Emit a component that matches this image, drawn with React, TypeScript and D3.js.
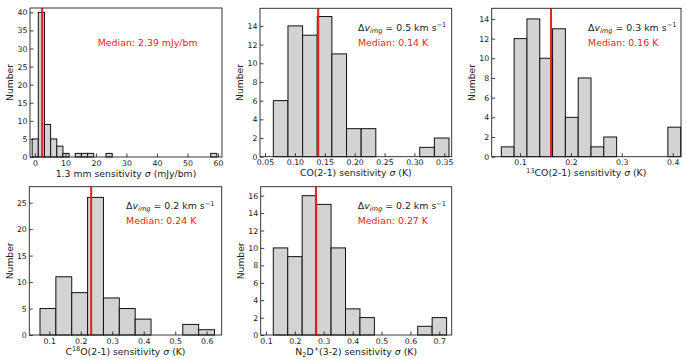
import { useRef, useEffect } from 'react'
import * as d3 from 'd3'

// histogram counts per bin
const contCounts = [5, 40, 9, 5, 3, 1, 0, 1, 1, 1, 0, 0, 1, 0, 0, 0, 0, 0, 0, 0, 0, 0, 0, 0, 0, 0, 0, 0, 0, 1]
const coCounts = [6, 14, 13, 15, 11, 3, 3, 0, 0, 0, 1, 2]
const co13Counts = [1, 12, 14, 10, 13, 4, 8, 1, 2, 0, 0, 0, 0, 3]
const c18oCounts = [5, 11, 8, 26, 7, 5, 3, 0, 0, 2, 1]
const n2dCounts = [10, 9, 16, 15, 10, 3, 2, 0, 0, 0, 1, 2]

// first bin edge and bin width
const binStarts = [-0.9, 0.0639, 0.0633, 0.0704, 0.1253]
const binWidths = [2.017, 0.0245, 0.02517, 0.0504, 0.05]

const medians = [2.39, 0.139, 0.161, 0.233, 0.273]
const medianLabels = ['Median: 2.39 mJy/bm', 'Median: 0.14 K', 'Median: 0.16 K', 'Median: 0.24 K', 'Median: 0.27 K']
const velocityRes = [null, '0.5', '0.3', '0.2', '0.2']

const xDomains: [number, number][] = [[-1.6, 61.3], [0.0416, 0.3624], [0.0444, 0.4163], [0.0364, 0.6477], [0.0817, 0.743]]
const yDomains: [number, number][] = [[0, 41.2], [0, 15.88], [0, 15.08], [0, 28.02], [0, 17.03]]

const xTicks = [
  [0, 10, 20, 30, 40, 50, 60],
  [0.05, 0.1, 0.15, 0.2, 0.25, 0.3, 0.35],
  [0.1, 0.2, 0.3, 0.4],
  [0.1, 0.2, 0.3, 0.4, 0.5, 0.6],
  [0.1, 0.2, 0.3, 0.4, 0.5, 0.6, 0.7],
]
const yTicks = [
  [0, 5, 10, 15, 20, 25, 30, 35, 40],
  [0, 2, 4, 6, 8, 10, 12, 14],
  [0, 2, 4, 6, 8, 10, 12, 14],
  [0, 5, 10, 15, 20, 25],
  [0, 2, 4, 6, 8, 10, 12, 14, 16],
]
const xFormats = ['d', '.2f', '.1f', '.1f', '.1f']

// x labels as [text, kind] pieces: kind 'sup' / 'sub' / 'it'
const xLabels: [string, string][][] = [
  [['1.3 mm sensitivity ', ''], ['σ', 'it'], [' (mJy/bm)', '']],
  [['CO(2-1) sensitivity ', ''], ['σ', 'it'], [' (K)', '']],
  [['13', 'sup'], ['CO(2-1) sensitivity ', ''], ['σ', 'it'], [' (K)', '']],
  [['C', ''], ['18', 'sup'], ['O(2-1) sensitivity ', ''], ['σ', 'it'], [' (K)', '']],
  [['N', ''], ['2', 'sub'], ['D', ''], ['+', 'sup'], ['(3-2) sensitivity ', ''], ['σ', 'it'], [' (K)', '']],
]

const allCounts = [contCounts, coCounts, co13Counts, c18oCounts, n2dCounts]

// axes boxes in px, ax = annotation x as fraction of box width
const boxes = [
  { x0: 30, x1: 222, y0: 8, y1: 157, ax: 0.353 },
  { x0: 260, x1: 451.7, y0: 8.3, y1: 156.7, ax: 0.511 },
  { x0: 491.7, x1: 681, y0: 8.3, y1: 156.7, ax: 0.509 },
  { x0: 29.3, x1: 221.7, y0: 186.7, y1: 335, ax: 0.503 },
  { x0: 260.7, x1: 451.7, y0: 186.7, y1: 335, ax: 0.508 },
]

const FONT = 'DejaVu Sans, sans-serif'
const RED = '#ee1c1c'

export default function App() {
  const svgRef = useRef<SVGSVGElement>(null)

  useEffect(() => {
    if (!svgRef.current) return
    const svg = d3.select(svgRef.current)
    svg.selectAll('*').remove()

    allCounts.forEach((counts, i) => {
      const b = boxes[i]
      const x = d3.scaleLinear().domain(xDomains[i]).range([b.x0, b.x1])
      const y = d3.scaleLinear().domain(yDomains[i]).range([b.y1, b.y0])
      const g = svg.append('g')

      const bins = counts
        .map((c, k) => ({ lo: binStarts[i] + k * binWidths[i], hi: binStarts[i] + (k + 1) * binWidths[i], c }))
        .filter((d) => d.c > 0)

      g.selectAll('rect')
        .data(bins)
        .join('rect')
        .attr('x', (d) => x(d.lo))
        .attr('y', (d) => y(d.c))
        .attr('width', (d) => x(d.hi) - x(d.lo))
        .attr('height', (d) => y(0) - y(d.c))
        .attr('fill', '#d3d3d3')
        .attr('stroke', '#111')
        .attr('stroke-width', 1)

      // median line
      g.append('line')
        .attr('x1', x(medians[i]))
        .attr('x2', x(medians[i]))
        .attr('y1', b.y0)
        .attr('y2', b.y1)
        .attr('stroke', RED)
        .attr('stroke-width', 2)

      // x axis
      g.append('g')
        .attr('transform', `translate(0,${b.y1})`)
        .call(
          d3
            .axisBottom(x)
            .tickValues(xTicks[i])
            .tickSizeInner(-3.5)
            .tickSizeOuter(0)
            .tickPadding(3)
            .tickFormat((d) => d3.format(xFormats[i])(d as number)),
        )
        .call((a) => {
          a.select('.domain').remove()
          a.selectAll('.tick line').attr('stroke', '#111').attr('stroke-width', 0.8)
          a.selectAll('.tick text').attr('fill', '#222').attr('font-size', '7.8px').attr('font-family', FONT)
        })

      // y axis
      g.append('g')
        .attr('transform', `translate(${b.x0},0)`)
        .call(d3.axisLeft(y).tickValues(yTicks[i]).tickSizeInner(-3.5).tickSizeOuter(0).tickPadding(2.5).tickFormat(d3.format('d')))
        .call((a) => {
          a.select('.domain').remove()
          a.selectAll('.tick line').attr('stroke', '#111').attr('stroke-width', 0.8)
          a.selectAll('.tick text').attr('fill', '#222').attr('font-size', '7.8px').attr('font-family', FONT)
        })

      // frame
      g.append('rect')
        .attr('x', b.x0)
        .attr('y', b.y0)
        .attr('width', b.x1 - b.x0)
        .attr('height', b.y1 - b.y0)
        .attr('fill', 'none')
        .attr('stroke', '#222')
        .attr('stroke-width', 0.9)

      // axis labels
      g.append('text')
        .attr('transform', `translate(${b.x0 - 20},${(b.y0 + b.y1) / 2}) rotate(-90)`)
        .attr('text-anchor', 'middle')
        .attr('dy', '0.35em')
        .attr('font-family', FONT)
        .attr('font-size', '9.2px')
        .attr('fill', '#222')
        .text('Number')

      const xl = g
        .append('text')
        .attr('x', (b.x0 + b.x1) / 2)
        .attr('y', b.y1 + 19.5)
        .attr('text-anchor', 'middle')
        .attr('font-family', FONT)
        .attr('font-size', '9.3px')
        .attr('fill', '#222')
      let shift = 0
      xLabels[i].forEach(([t, kind]) => {
        const target = kind === 'sup' ? -3.4 : kind === 'sub' ? 2 : 0
        const ts = xl.append('tspan').attr('dy', target - shift).text(t)
        if (kind === 'sup' || kind === 'sub') ts.attr('font-size', '6.5px')
        if (kind === 'it') ts.attr('font-style', 'italic')
        shift = target
      })

      // annotations
      const ax = b.x0 + b.ax * (b.x1 - b.x0)
      const vr = velocityRes[i]
      if (vr) {
        const t = g
          .append('text')
          .attr('x', ax)
          .attr('y', b.y0 + 22.5)
          .attr('font-family', FONT)
          .attr('font-size', '9.4px')
          .attr('fill', '#222')
        t.append('tspan').text('Δ')
        t.append('tspan').attr('font-style', 'italic').text('v')
        t.append('tspan').attr('font-style', 'italic').attr('font-size', '6.6px').attr('dy', 2.2).text('img')
        t.append('tspan').attr('dy', -2.2).text(` = ${vr} km s`)
        t.append('tspan').attr('font-size', '6.6px').attr('dy', -3.6).text('−1')
      }
      g.append('text')
        .attr('x', ax)
        .attr('y', b.y0 + 37.6)
        .attr('font-family', FONT)
        .attr('font-size', '9.4px')
        .attr('fill', RED)
        .text(medianLabels[i])
    })
  }, [])

  return (
    <svg
      ref={svgRef}
      width={691}
      height={359}
      style={{ position: 'absolute', left: 0, top: 0, background: '#fff' }}
    />
  )
}
